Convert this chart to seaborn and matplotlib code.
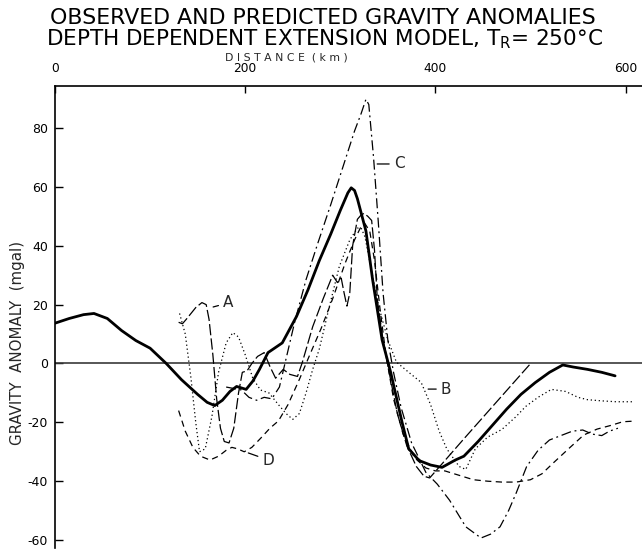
import numpy as np
import pandas as pd
import seaborn as sns
import matplotlib
matplotlib.use("Agg")
import matplotlib.pyplot as plt

# Observed gravity profile (km, mgal)
obs_x = [0, 15, 30, 41, 55, 70, 85, 100, 117, 133, 150, 160, 168, 176, 184, 191,
         201, 208, 215, 224, 239, 254, 266, 278, 290, 300, 308, 311.5, 315, 318,
         327, 334, 344, 353, 365, 372, 383, 395, 407, 421, 430, 445, 460, 475,
         490, 505, 520, 534, 545, 560, 575, 589]
obs_y = [13.7, 15.3, 16.6, 17, 15.3, 11.2, 7.8, 5.2, 0, -5.5, -10.5, -13.2, -14.3,
         -12.5, -9.5, -7.8, -8.8, -6, -2, 3.7, 7, 16, 25, 35, 44, 52, 58, 59.7,
         58.8, 56, 45, 28.5, 8, -3, -20, -29, -33, -34.5, -35.3, -32.8, -31.5,
         -26.5, -21, -15.5, -10.5, -6.5, -3, -0.5, -1.2, -2, -3, -4.2]

# Model A
a_x = [130, 134, 138, 142, 148, 154.5, 159, 162, 166, 170, 174, 178, 183, 188,
       193, 197, 202, 207, 213, 220, 226, 232, 240, 247, 255, 260, 271, 282,
       292, 297, 301, 304, 307, 310, 313, 318, 322, 325, 329, 333, 336, 339,
       345, 352, 360, 370, 380, 388, 394, 410, 430, 450, 470, 490, 501]
a_y = [14, 13.5, 15, 16.6, 19, 20.7, 20, 15, 3, -12, -22, -26.5, -27, -22, -10,
       -3, -2.5, 0, 2.4, 3.7, -1, -5, -2, -3.7, -4.4, 0.3, 12.5, 22, 30, 27.5,
       29, 24, 19.5, 24, 40, 49, 50.5, 51, 50, 48.6, 38.5, 21.5, 8, -4, -17,
       -28, -35, -38.3, -38.9, -33, -25.6, -18.3, -11, -3.7, 0.3]

# Model B
b_x = [131, 137, 143, 148, 152, 158, 165, 172, 180, 187, 193, 200, 208, 216,
       225, 235, 243, 250, 257, 264, 271, 278, 289, 299, 310, 318, 322, 326,
       332, 340, 350, 359, 372, 385, 395, 404, 412, 425, 432, 442, 455, 470,
       485, 495, 508, 522, 537, 550, 560, 575, 590, 608]
b_y = [17, 10, -5, -20, -30, -29, -18, -3, 7, 10.5, 9, 3, -5, -9, -10, -14, -17,
       -19, -17, -10, -2, 5, 20, 33, 42, 46, 46, 43, 33, 20, 8, 0.5, -3, -6.4,
       -14, -23, -29, -35, -36, -29, -25, -22.4, -18, -14.6, -11.5, -8.8, -9.5,
       -11.5, -12.3, -12.7, -13, -13]

# Model C
c_x = [180, 188, 196, 204, 212, 220, 228, 236, 244, 252, 264, 276, 290, 303,
       315, 322, 327, 330, 335, 340, 345, 350, 356, 364, 375, 390, 402, 415,
       432, 448, 458, 468, 477, 485, 496, 508, 520, 532, 544, 555, 565, 575,
       583, 592]
c_y = [-8, -8.5, -9, -11.5, -12.5, -11.5, -12, -8, 3, 14, 28.5, 40.5, 54, 67,
       79, 85, 89.8, 88, 70, 48, 24, 8, -3, -15, -27, -37, -41, -46.5, -55.5,
       -59.3, -58, -55.5, -50, -44, -35, -29.5, -26, -24.5, -23, -22.6, -24,
       -24.5, -23, -22]

# Model D
d_x = [130, 137, 145, 153, 163, 172, 180, 186, 192, 199, 207, 216, 226, 235,
       245, 257, 268, 280, 292, 305, 315, 321, 326, 331, 336, 342, 348, 356,
       366, 378, 390, 400, 410, 425, 440, 455, 470, 485, 500, 512, 524, 540,
       556, 570, 585, 597, 608]
d_y = [-16, -23, -28.5, -31.5, -32.8, -31.5, -29.5, -28.5, -29, -30, -28.5,
       -25.5, -22, -19.5, -14, -5.4, 3, 12, 22, 34, 42, 46, 47.5, 45, 35, 18,
       3, -12, -24, -32, -35.5, -36.5, -36.5, -38, -39.5, -40, -40.3, -40.3,
       -39.5, -37.5, -33.8, -29, -24.3, -22.3, -21, -19.8, -19.6]

top_ticks = [0, 200, 400, 600]
left_ticks = [-60, -40, -20, 0, 20, 40, 60, 80]

frames = []
for name, xs, ys in [("observed", obs_x, obs_y), ("A", a_x, a_y),
                     ("B", b_x, b_y), ("C", c_x, c_y), ("D", d_x, d_y)]:
    frames.append(pd.DataFrame({"distance": xs, "anomaly": ys, "curve": name}))
profiles = pd.concat(frames, ignore_index=True)

sns.set_style("white")
plt.rcParams["font.family"] = ["DejaVu Sans"]
plt.rcParams["axes.unicode_minus"] = False

fig = plt.figure(figsize=(6.42, 5.51), dpi=100)
ax = fig.add_axes([55 / 642, 3 / 551, 587 / 642, 462 / 551])

dash_styles = {"observed": "", "A": (9, 2.5), "B": (1, 2.2),
               "C": (8, 3, 1.5, 3), "D": (5, 3.5)}
widths = {"observed": 2.0, "A": 0.9, "B": 0.9, "C": 0.9, "D": 0.9}

sns.lineplot(data=profiles, x="distance", y="anomaly", style="curve",
             size="curve", dashes=dash_styles, sizes=widths, color="black",
             sort=False, estimator=None, legend=False, ax=ax)

ax.axhline(0, color="#3a3a3a", lw=1.2, zorder=1)

ax.set_xlim(0, 617.3)
ax.set_ylim(-62.7, 94.3)

ax.xaxis.tick_top()
ax.set_xticks(top_ticks)
ax.set_xticklabels([str(t) for t in top_ticks])
ax.set_yticks(left_ticks)
ax.set_yticklabels([str(t) for t in left_ticks])
ax.tick_params(axis="x", direction="in", length=5, width=1, pad=8,
               labelsize=8.8, top=True, bottom=False, colors="black")
ax.tick_params(axis="y", direction="in", length=6, width=1, pad=5,
               labelsize=9, left=True, right=False, colors="black")
ax.set_xlabel("")
ax.set_ylabel("")

for side in ["right", "bottom"]:
    ax.spines[side].set_visible(False)
for side in ["top", "left"]:
    ax.spines[side].set_visible(True)
    ax.spines[side].set_color("black")
    ax.spines[side].set_linewidth(1.2)

# Curve labels with short leader lines
leader = dict(arrowstyle="-", lw=0.9, color="black", shrinkA=1, shrinkB=0)
ax.annotate("A", xy=(166.3, 19.2), xytext=(182.2, 20.6), ha="center",
            va="center", fontsize=11, arrowprops=leader)
ax.annotate("C", xy=(338.8, 67.8), xytext=(361.9, 67.8), ha="center",
            va="center", fontsize=11, arrowprops=leader)
ax.annotate("B", xy=(392.4, -8.7), xytext=(411.3, -8.7), ha="center",
            va="center", fontsize=11, arrowprops=leader)
ax.annotate("D", xy=(203.3, -30.4), xytext=(224.3, -32.8), ha="center",
            va="center", fontsize=11, arrowprops=leader)

fig.text(323 / 642, 1 - 18 / 551, "OBSERVED AND PREDICTED GRAVITY ANOMALIES",
         ha="center", va="center", fontsize=15.9, color="black")
fig.text(324 / 642, 1 - 39 / 551,
         r"DEPTH DEPENDENT EXTENSION MODEL, T$_\mathregular{R}$= 250°C",
         ha="center", va="center", fontsize=15.5, color="black")
fig.text(286 / 642, 1 - 57 / 551, "D I S T A N C E  ( k m )",
         ha="center", va="center", fontsize=7.8)
fig.text(18 / 642, 1 - 343 / 551, "GRAVITY  ANOMALY  (mgal)",
         ha="center", va="center", rotation=90, fontsize=10.8)

fig.savefig("out.png", dpi=100)
